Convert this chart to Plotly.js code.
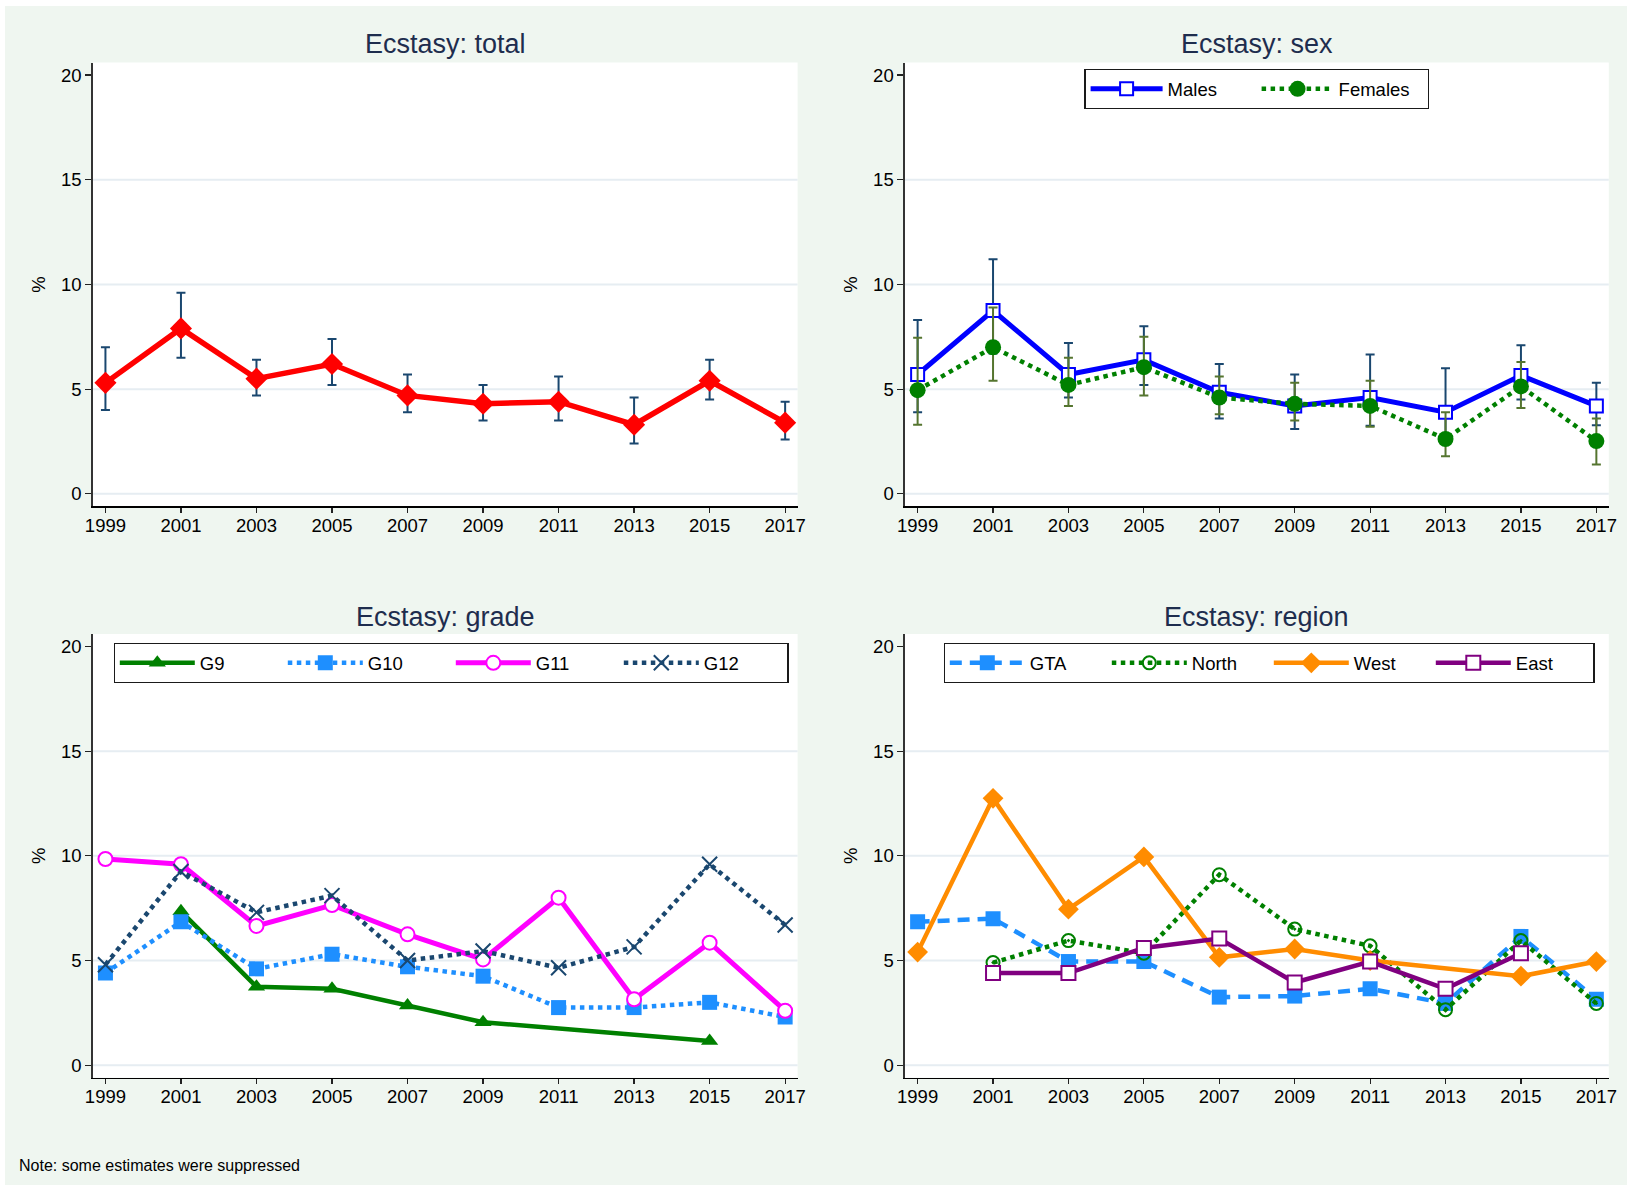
<!DOCTYPE html>
<html><head><meta charset="utf-8">
<script src="https://cdn.plot.ly/plotly-3.0.1.min.js"></script>
<style>html,body{margin:0;padding:0;background:#ffffff;} #chart{position:absolute;left:5px;top:6px;width:1622px;height:1179px;}</style>
</head><body><div id="chart"></div>
<script>
// ---------- data ----------
const years = [1999, 2001, 2003, 2005, 2007, 2009, 2011, 2013, 2015, 2017];
const yTicks = [0, 5, 10, 15, 20];
const gridValues = [0, 5, 10, 15];

const totalVal = [5.3, 7.9, 5.5, 6.2, 4.7, 4.3, 4.4, 3.3, 5.4, 3.4];
const totalLo  = [4.0, 6.5, 4.7, 5.2, 3.9, 3.5, 3.5, 2.4, 4.5, 2.6];
const totalHi  = [7.0, 9.6, 6.4, 7.4, 5.7, 5.2, 5.6, 4.6, 6.4, 4.4];

const malesVal = [5.7, 8.75, 5.7, 6.4, 4.85, 4.2, 4.6, 3.9, 5.65, 4.2];
const malesLo  = [3.9, 6.7, 4.6, 5.2, 3.6, 3.1, 3.25, 2.7, 4.5, 3.27];
const malesHi  = [8.3, 11.2, 7.2, 8.0, 6.2, 5.7, 6.65, 6.0, 7.1, 5.3];

const femalesVal = [4.95, 7.0, 5.2, 6.05, 4.6, 4.3, 4.2, 2.62, 5.13, 2.52];
const femalesLo  = [3.3, 5.4, 4.2, 4.7, 3.8, 3.5, 3.2, 1.8, 4.1, 1.4];
const femalesHi  = [7.45, 8.9, 6.5, 7.5, 5.6, 5.3, 5.4, 3.9, 6.3, 3.6];

const g9  = [null, 7.35, 3.75, 3.65, 2.85, 2.05, null, null, 1.15, null];
const g10 = [4.4, 6.85, 4.6, 5.3, 4.7, 4.25, 2.75, 2.75, 3.0, 2.3];
const g11 = [9.85, 9.6, 6.65, 7.65, 6.25, 5.05, 8.0, 3.15, 5.85, 2.6];
const g12 = [4.8, 9.25, 7.3, 8.1, 5.0, 5.45, 4.65, 5.65, 9.6, 6.7];

const gta   = [6.85, 7.0, 4.95, 4.95, 3.25, 3.3, 3.65, 2.95, 6.15, 3.15];
const north = [null, 4.9, 5.95, 5.35, 9.1, 6.5, 5.7, 2.65, 5.95, 2.95];
const west  = [5.4, 12.75, 7.45, 9.95, 5.15, 5.55, 5.0, null, 4.25, 4.95];
const east  = [null, 4.4, 4.4, 5.6, 6.05, 3.95, 4.95, 3.65, 5.35, null];

const panelTitles = ['Ecstasy: total', 'Ecstasy: sex', 'Ecstasy: grade', 'Ecstasy: region'];
const noteText = 'Note: some estimates were suppressed';

// ---------- helpers ----------
const FONT = 'Liberation Sans, Arial, Helvetica, sans-serif';
const DIVX = 5, DIVY = 6, DW = 1622, DH = 1179;
const dx = X => (X - DIVX) / DW;
const dy = Y => 1 - (Y - DIVY) / DH;
const panels = [
  {x: [92.6, 797.6], y: [62.5, 506.4]},
  {x: [904.8, 1608.8], y: [62.5, 506.4]},
  {x: [92.6, 797.6], y: [634, 1077.7]},
  {x: [904.8, 1608.8], y: [634, 1077.7]}
];
const errs = (v, lo, hi, color) => ({
  type: 'data', symmetric: false,
  array: hi.map((h, i) => h - v[i]),
  arrayminus: lo.map((l, i) => v[i] - l),
  color: color, thickness: 2, width: 4.5
});

const traces = [];
// total
traces.push({x: years, y: totalVal, xaxis: 'x', yaxis: 'y', mode: 'lines+markers', showlegend: false,
  line: {color: '#ff0000', width: 5.5}, marker: {symbol: 'diamond', size: 17, color: '#ff0000'},
  error_y: errs(totalVal, totalLo, totalHi, '#1a476f')});
// sex
traces.push({x: years, y: malesVal, name: 'Males', legend: 'legend2', xaxis: 'x2', yaxis: 'y2', mode: 'lines+markers',
  line: {color: '#0000ff', width: 5}, marker: {symbol: 'square', size: 13, color: '#ffffff', line: {color: '#0000ff', width: 2}},
  error_y: errs(malesVal, malesLo, malesHi, '#1a476f')});
traces.push({x: years, y: femalesVal, name: 'Females', legend: 'legend2', xaxis: 'x2', yaxis: 'y2', mode: 'lines+markers',
  line: {color: '#008000', width: 4.5, dash: 'dot'}, marker: {symbol: 'circle', size: 16, color: '#008000'},
  error_y: errs(femalesVal, femalesLo, femalesHi, '#55752f')});
// grade
traces.push({x: years, y: g9, name: 'G9', legend: 'legend3', xaxis: 'x3', yaxis: 'y3', mode: 'lines+markers', connectgaps: true,
  line: {color: '#008000', width: 4.5}, marker: {symbol: 'triangle-up', size: 15, color: '#008000'}});
traces.push({x: years, y: g10, name: 'G10', legend: 'legend3', xaxis: 'x3', yaxis: 'y3', mode: 'lines+markers',
  line: {color: '#1e8fff', width: 4.5, dash: 'dot'}, marker: {symbol: 'square', size: 15, color: '#1e8fff'}});
traces.push({x: years, y: g11, name: 'G11', legend: 'legend3', xaxis: 'x3', yaxis: 'y3', mode: 'lines+markers',
  line: {color: '#ff00ff', width: 5}, marker: {symbol: 'circle', size: 14, color: '#ffffff', line: {color: '#ff00ff', width: 2}}});
traces.push({x: years, y: g12, name: 'G12', legend: 'legend3', xaxis: 'x3', yaxis: 'y3', mode: 'lines+markers',
  line: {color: '#1a476f', width: 4.5, dash: 'dot'}, marker: {symbol: 'x-thin-open', size: 15, color: '#1a476f', line: {color: '#1a476f', width: 2}}});
// region
traces.push({x: years, y: gta, name: 'GTA', legend: 'legend4', xaxis: 'x4', yaxis: 'y4', mode: 'lines+markers',
  line: {color: '#1e8fff', width: 4.5, dash: '12px,8px'}, marker: {symbol: 'square', size: 15, color: '#1e8fff'}});
traces.push({x: years, y: north, name: 'North', legend: 'legend4', xaxis: 'x4', yaxis: 'y4', mode: 'lines+markers', connectgaps: true,
  line: {color: '#008000', width: 4.5, dash: 'dot'}, marker: {symbol: 'circle-open-dot', size: 13, color: '#008000', line: {color: '#008000', width: 2}}});
traces.push({x: years, y: west, name: 'West', legend: 'legend4', xaxis: 'x4', yaxis: 'y4', mode: 'lines+markers', connectgaps: true,
  line: {color: '#ff8c00', width: 4.5}, marker: {symbol: 'diamond', size: 16, color: '#ff8c00'}});
traces.push({x: years, y: east, name: 'East', legend: 'legend4', xaxis: 'x4', yaxis: 'y4', mode: 'lines+markers',
  line: {color: '#800080', width: 4.5}, marker: {symbol: 'square', size: 14, color: '#ffffff', line: {color: '#800080', width: 2}}});

const layout = {
  width: DW, height: DH,
  margin: {l: 0, r: 0, t: 0, b: 0},
  paper_bgcolor: '#eff6f0', plot_bgcolor: '#ffffff',
  font: {family: FONT, color: '#000000', size: 18.5},
  annotations: [], shapes: []
};
const legendBase = {orientation: 'h', bgcolor: '#ffffff', bordercolor: '#1a1a1a', borderwidth: 1.3,
  font: {family: FONT, size: 18.5, color: '#000'}, xanchor: 'center', yanchor: 'top', itemwidth: 72, itemclick: false};

panels.forEach((p, i) => {
  const n = i === 0 ? '' : String(i + 1);
  layout['xaxis' + n] = {domain: [dx(p.x[0]), dx(p.x[1])], anchor: 'y' + n, range: [1998.66, 2017.33],
    tickvals: years, ticktext: years.map(String), ticks: 'outside', ticklen: 5, tickwidth: 1.2, tickcolor: '#222',
    ticklabelstandoff: -3,
    showline: true, linecolor: '#000', linewidth: 1.4, showgrid: false, zeroline: false,
    tickfont: {family: FONT, size: 18.5, color: '#000'}};
  layout['yaxis' + n] = {domain: [dy(p.y[1]), dy(p.y[0])], anchor: 'x' + n, range: [-0.6, 20.6],
    tickvals: yTicks, ticks: 'outside', ticklen: 6, tickwidth: 1.2, tickcolor: '#222',
    showline: true, linecolor: '#333', linewidth: 1.4, showgrid: false, zeroline: false,
    tickfont: {family: FONT, size: 18.5, color: '#000'},
    title: {text: '%', font: {family: FONT, size: 18.5, color: '#000'}, standoff: 10}};
  gridValues.forEach(g => layout.shapes.push({type: 'line', layer: 'below', xref: 'x' + n + ' domain', x0: 0, x1: 1,
    yref: 'y' + n, y0: g, y1: g, line: {color: '#e6edf2', width: 2}}));
  layout.annotations.push({text: panelTitles[i], xref: 'paper', yref: 'paper', showarrow: false,
    x: dx((p.x[0] + p.x[1]) / 2), y: dy(i < 2 ? 43.5 : 617), xanchor: 'center', yanchor: 'middle',
    font: {family: FONT, size: 27, color: '#1e2d4e'}});
});
layout.annotations.push({text: noteText, xref: 'paper', yref: 'paper', showarrow: false, x: dx(17), y: dy(1165),
  xanchor: 'left', yanchor: 'middle', font: {family: FONT, size: 16, color: '#000'}});

layout.legend2 = Object.assign({}, legendBase, {x: dx(1256.8), y: dy(69), entrywidth: 84});
layout.legend3 = Object.assign({}, legendBase, {x: dx(451), y: dy(643), entrywidth: 78, itemwidth: 75});
layout.legend4 = Object.assign({}, legendBase, {x: dx(1269), y: dy(643), entrywidth: 72, itemwidth: 75});

Plotly.newPlot('chart', traces, layout, {displayModeBar: false, staticPlot: true});
</script></body></html>
